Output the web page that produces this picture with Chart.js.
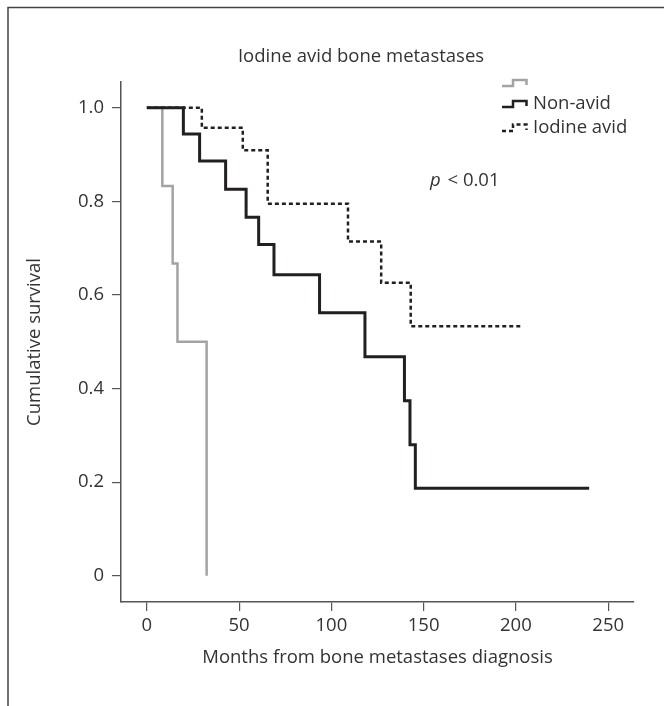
<!DOCTYPE html>
<html>
<head>
<meta charset="utf-8">
<script src="https://cdn.jsdelivr.net/npm/chart.js@4.4.1/dist/chart.umd.min.js"></script>
<style>
  html, body { margin: 0; padding: 0; background: #fff; }
  #wrap { position: relative; width: 664px; height: 706px; }
</style>
</head>
<body>
<div id="wrap"><canvas id="km-chart" width="664" height="706"></canvas></div>
<script>
// Kaplan-Meier curves (months, cumulative survival)
const greyMonths = [0, 8.4, 14.0, 16.6, 32.4];
const greySurv   = [1.0, 0.833, 0.667, 0.5, 0.0];

const nonAvidMonths = [0, 19.8, 28.6, 42.7, 53.8, 60.6, 68.9, 93.6, 118.2, 139.6, 142.6, 145.5, 239.7];
const nonAvidSurv   = [1.0, 0.944, 0.886, 0.826, 0.766, 0.708, 0.643, 0.562, 0.468, 0.374, 0.28, 0.187, 0.187];

const avidMonths = [0, 29.8, 52.0, 65.5, 109.0, 127.0, 143.0, 203.0];
const avidSurv   = [1.0, 0.957, 0.909, 0.795, 0.714, 0.626, 0.533, 0.533];

const xTicks = [0, 50, 100, 150, 200, 250];
const yTicks = [0, 0.2, 0.4, 0.6, 0.8, 1.0];
const yTickLabels = ['0', '0.2', '0.4', '0.6', '0.8', '1.0'];

const legendLabels = ['', 'Non-avid', 'Iodine avid'];
const chartTitle = 'Iodine avid bone metastases';
const pText = '< 0.01';

const FONT = '"Open Sans", sans-serif';
const FS = 18.5;
const TEXT = '#333333';
const AXIS = '#555555';

function pts(xs, ys) {
  return xs.map((x, i) => ({ x: x, y: ys[i] }));
}

// frame, title, legend and p value
const decorations = {
  id: 'decorations',
  beforeDraw(chart) {
    const ctx = chart.ctx;
    ctx.save();
    ctx.strokeStyle = '#444';
    ctx.lineWidth = 1.5;
    ctx.beginPath();
    ctx.moveTo(8, 706);
    ctx.lineTo(8, 7.5);
    ctx.lineTo(664, 7.5);
    ctx.stroke();
    ctx.restore();
  },
  afterDraw(chart) {
    const ctx = chart.ctx;
    ctx.save();
    ctx.fillStyle = TEXT;
    ctx.font = FS + 'px ' + FONT;
    ctx.textAlign = 'center';
    ctx.textBaseline = 'middle';
    ctx.fillText(chartTitle, 361, 57);

    // legend, step shaped keys
    const keys = [
      { color: '#a3a3a3', dash: [], low: 86, high: 80 },
      { color: '#231f20', dash: [], low: 107, high: 101 },
      { color: '#231f20', dash: [4, 3], low: 131, high: 124.5 }
    ];
    keys.forEach((k, i) => {
      ctx.strokeStyle = k.color;
      ctx.lineWidth = 2.5;
      ctx.setLineDash(k.dash);
      ctx.beginPath();
      ctx.moveTo(502, k.low);
      ctx.lineTo(513, k.low);
      ctx.lineTo(513, k.high);
      ctx.lineTo(526.5, k.high);
      ctx.lineTo(526.5, k.low - 1);
      ctx.stroke();
      ctx.setLineDash([]);
      if (legendLabels[i]) {
        ctx.textAlign = 'left';
        ctx.fillText(legendLabels[i], 533, (k.low + k.high) / 2 - 0.5);
      }
    });

    // p value
    ctx.textAlign = 'left';
    ctx.font = 'italic ' + FS + 'px ' + FONT;
    ctx.fillText('p', 430, 181);
    const pw = ctx.measureText('p ').width + 2;
    ctx.font = FS + 'px ' + FONT;
    ctx.fillText(pText, 430 + pw, 181);
    ctx.restore();
  }
};

new Chart(document.getElementById('km-chart'), {
  type: 'line',
  data: {
    datasets: [
      {
        data: pts(greyMonths, greySurv),
        borderColor: '#a3a3a3',
        borderWidth: 2.5,
        stepped: 'before',
        order: 3
      },
      {
        data: pts(nonAvidMonths, nonAvidSurv),
        borderColor: '#231f20',
        borderWidth: 3,
        stepped: 'before',
        order: 2
      },
      {
        data: pts(avidMonths, avidSurv),
        borderColor: '#231f20',
        borderWidth: 2.5,
        borderDash: [4, 3],
        stepped: 'before',
        order: 1
      }
    ]
  },
  options: {
    responsive: false,
    animation: false,
    devicePixelRatio: 1,
    elements: { point: { radius: 0 }, line: { tension: 0, borderCapStyle: 'butt' } },
    layout: { padding: { left: 20, right: 30, top: 82, bottom: 37 } },
    plugins: {
      legend: { display: false },
      title: { display: false },
      tooltip: { enabled: false }
    },
    scales: {
      x: {
        type: 'linear',
        min: -14,
        max: 264,
        afterBuildTicks: (scale) => { scale.ticks = xTicks.map(v => ({ value: v })); },
        afterFit: (scale) => { scale.height = 67; },
        grid: { drawOnChartArea: false, drawTicks: true, tickLength: 9, color: AXIS, lineWidth: 1.2 },
        border: { display: true, color: AXIS, width: 1.5 },
        ticks: { color: TEXT, font: { family: FONT, size: FS }, padding: 4, maxRotation: 0 },
        title: {
          display: true,
          text: 'Months from bone metastases diagnosis',
          color: TEXT,
          font: { family: FONT, size: FS },
          padding: { top: 0, bottom: 0 }
        }
      },
      y: {
        type: 'linear',
        min: -0.056,
        max: 1.055,
        afterBuildTicks: (scale) => { scale.ticks = yTicks.map(v => ({ value: v })); },
        afterFit: (scale) => { scale.width = 101; },
        grid: { drawOnChartArea: false, drawTicks: true, tickLength: 9, color: AXIS, lineWidth: 1.2 },
        border: { display: true, color: AXIS, width: 1.5 },
        ticks: {
          color: TEXT,
          font: { family: FONT, size: FS },
          padding: 8,
          callback: (v) => { const i = yTicks.indexOf(v); return i >= 0 ? yTickLabels[i] : ''; }
        },
        title: {
          display: true,
          text: 'Cumulative survival',
          color: TEXT,
          font: { family: FONT, size: FS },
          padding: { top: 4, bottom: 0 }
        }
      }
    }
  },
  plugins: [decorations]
});
</script>
</body>
</html>
